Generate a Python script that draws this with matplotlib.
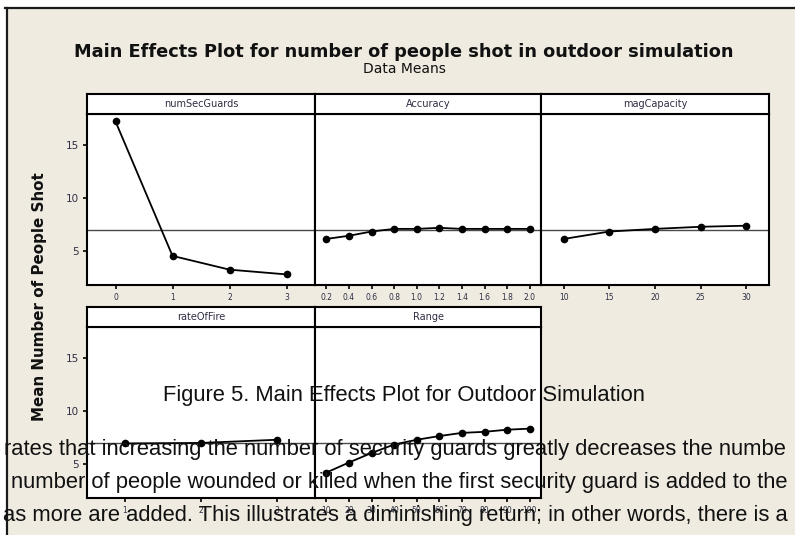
"""Main effects plot (Minitab style) for people shot in the outdoor simulation."""
import matplotlib

matplotlib.use("Agg")
import matplotlib.pyplot as plt
from matplotlib.lines import Line2D
from matplotlib.patches import Rectangle


W, H = 795, 535
BEIGE = "#EFEBE1"
LABEL_COLOR = "#2E2E44"

SEC_GUARDS = ["0", "1", "2", "3"]
SEC_GUARDS_MEANS = [17.2, 4.5, 3.2, 2.75]

ACCURACY = ["0.2", "0.4", "0.6", "0.8", "1.0", "1.2", "1.4", "1.6", "1.8", "2.0"]
ACCURACY_MEANS = [6.1, 6.4, 6.8, 7.05, 7.05, 7.15, 7.05, 7.05, 7.05, 7.05]

MAG_CAPACITY = ["10", "15", "20", "25", "30"]
MAG_CAPACITY_MEANS = [6.1, 6.8, 7.05, 7.25, 7.35]

RATE_OF_FIRE = ["1", "2", "3"]
RATE_OF_FIRE_MEANS = [6.9, 6.95, 7.25]

RANGE = ["10", "20", "30", "40", "50", "60", "70", "80", "90", "100"]
RANGE_MEANS = [4.15, 5.1, 6.0, 6.8, 7.25, 7.6, 7.9, 8.0, 8.2, 8.3]

GRAND_MEAN = 6.97
Y_TICKS = [5, 10, 15]

TITLE = "Main Effects Plot for number of people shot in outdoor simulation"
SUBTITLE = "Data Means"
Y_LABEL = "Mean Number of People Shot"

CAPTION = "Figure 5. Main Effects Plot for Outdoor Simulation"
BODY_LINES = [
    "rates that increasing the number of security guards greatly decreases the numbe",
    "number of people wounded or killed when the first security guard is added to the",
    "as more are added. This illustrates a diminishing return; in other words, there is a",
]


def fx(x):
    return x / W


def fy(y):
    return 1 - y / H


def add_panel(fig, box, name, levels, means, show_y):
    left, top, right, bottom = box
    ax = fig.add_axes([fx(left), fy(bottom), (right - left) / W, (bottom - top) / H])
    ax.set_facecolor("white")
    x = list(range(len(levels)))
    ax.axhline(GRAND_MEAN, color="#4a4a4a", lw=1.0, zorder=1)
    ax.plot(x, means, color="black", lw=1.3, marker="o", ms=4.5, zorder=3)
    ax.set_xlim(-0.5, len(levels) - 0.5)
    ax.set_ylim(1.75, 17.9)
    ax.set_xticks(x)
    ax.set_xticklabels(levels, fontsize=5.5, color=LABEL_COLOR)
    if show_y:
        ax.set_yticks(Y_TICKS)
        ax.set_yticklabels([str(t) for t in Y_TICKS], fontsize=7.5, color=LABEL_COLOR)
    else:
        ax.set_yticks([])
    ax.tick_params(direction="out", length=3, width=1.2, pad=3)
    for s in ax.spines.values():
        s.set_linewidth(1.5)
        s.set_color("black")

    # strip header sits just above the panel
    strip = fig.add_axes([fx(left), fy(top), (right - left) / W, 20 / H])
    strip.set_facecolor("white")
    strip.set_xticks([])
    strip.set_yticks([])
    for s in strip.spines.values():
        s.set_linewidth(1.5)
        s.set_color("black")
    strip.text(0.5, 0.5, name, ha="center", va="center", fontsize=7,
               color=LABEL_COLOR, transform=strip.transAxes)
    return ax


def main():
    fig = plt.figure(figsize=(W / 100, H / 100), dpi=100, facecolor="white")

    # beige chart background with its dark frame on top and left
    fig.patches.append(Rectangle((fx(7), 0), 1 - fx(7), fy(8), transform=fig.transFigure,
                                 facecolor=BEIGE, edgecolor="none", zorder=-5))
    fig.lines.append(Line2D([fx(5), 1], [fy(8), fy(8)], transform=fig.transFigure,
                            color="#1a1a1a", lw=1.6, zorder=-4))
    fig.lines.append(Line2D([fx(7), fx(7)], [fy(8), 0], transform=fig.transFigure,
                            color="#1a1a1a", lw=1.6, zorder=-4))

    fig.text(fx(404), fy(52), TITLE, ha="center", va="center", fontsize=12.8,
             fontweight="bold", color="#111111")
    fig.text(fx(404), fy(69), SUBTITLE, ha="center", va="center", fontsize=10,
             color="#111111")
    fig.text(fx(40), fy(297), Y_LABEL, ha="center", va="center", rotation=90,
             fontsize=10.9, fontweight="bold", color="#111111")

    cols = [(87, 315), (315, 541), (541, 769)]
    row1 = (114, 285)
    row2 = (327, 498)
    add_panel(fig, (cols[0][0], row1[0], cols[0][1], row1[1]), "numSecGuards",
              SEC_GUARDS, SEC_GUARDS_MEANS, True)
    add_panel(fig, (cols[1][0], row1[0], cols[1][1], row1[1]), "Accuracy",
              ACCURACY, ACCURACY_MEANS, False)
    add_panel(fig, (cols[2][0], row1[0], cols[2][1], row1[1]), "magCapacity",
              MAG_CAPACITY, MAG_CAPACITY_MEANS, False)
    add_panel(fig, (cols[0][0], row2[0], cols[0][1], row2[1]), "rateOfFire",
              RATE_OF_FIRE, RATE_OF_FIRE_MEANS, True)
    add_panel(fig, (cols[1][0], row2[0], cols[1][1], row2[1]), "Range",
              RANGE, RANGE_MEANS, False)

    # document text that lies over the screenshot
    body_font = dict(family="Liberation Sans", fontsize=15.8, color="#111111",
                     va="baseline", ha="left", zorder=10)
    fig.text(fx(163), fy(401), CAPTION, **body_font)
    for (x, y), line in zip([(4, 455), (11, 488), (3, 521)], BODY_LINES):
        fig.text(fx(x), fy(y), line, **body_font)

    fig.savefig("out.png", dpi=100, facecolor="white")
    plt.close(fig)


if __name__ == "__main__":
    main()
